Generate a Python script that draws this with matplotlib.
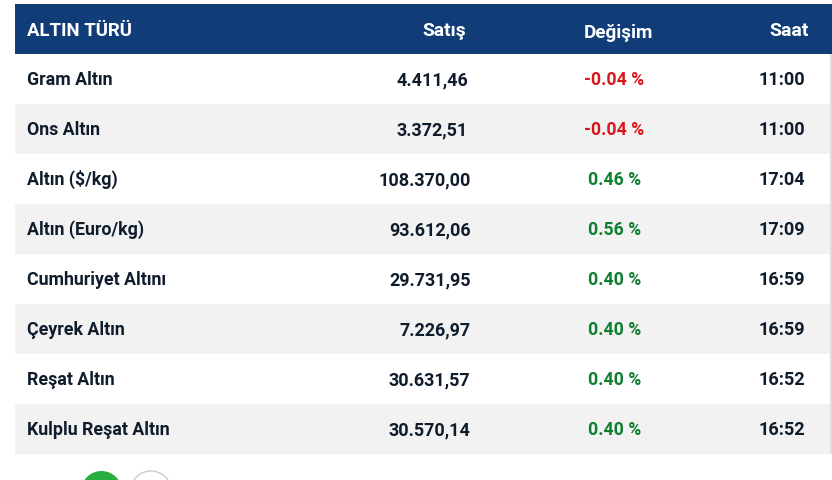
import matplotlib.pyplot as plt
from matplotlib.patches import Rectangle, Circle

plt.rcParams['font.family'] = ['Roboto', 'DejaVu Sans']

W, H = 832, 480
NAVY = '#103d78'
INK = '#0e1c2b'
RED = '#d9161c'
GREEN = '#0d7f2e'

headers = ['ALTIN TÜRÜ', 'Satış', 'Değişim', 'Saat']
names = ['Gram Altın', 'Ons Altın', 'Altın ($/kg)', 'Altın (Euro/kg)',
         'Cumhuriyet Altını', 'Çeyrek Altın', 'Reşat Altın', 'Kulplu Reşat Altın']
prices = ['4.411,46', '3.372,51', '108.370,00', '93.612,06',
          '29.731,95', '7.226,97', '30.631,57', '30.570,14']
changes = ['-0.04 %', '-0.04 %', '0.46 %', '0.56 %', '0.40 %', '0.40 %', '0.40 %', '0.40 %']
times = ['11:00', '11:00', '17:04', '17:09', '16:59', '16:59', '16:52', '16:52']
price_right = [468.5, 467.5, 470.5, 470.5, 470.5, 470.5, 470.5, 470.5]

fig = plt.figure(figsize=(W / 100, H / 100), dpi=100)
ax = fig.add_axes([0, 0, 1, 1])
ax.set_xlim(0, W)
ax.set_ylim(H, 0)
ax.axis('off')

# header band
ax.add_patch(Rectangle((15, 4), 817, 50, color=NAVY, lw=0))
ax.text(27, 36.5, headers[0], color='white', fontsize=13.4, fontweight='bold', va='baseline')
ax.text(466, 36.5, headers[1], color='white', fontsize=13.9, fontweight='bold', va='baseline', ha='right')
ax.text(583.5, 38.5, headers[2], color='white', fontsize=13.6, fontweight='bold', va='baseline')
ax.text(809, 36.5, headers[3], color='white', fontsize=14, fontweight='bold', va='baseline', ha='right')

# rows
for i in range(len(names)):
    top = 54 + i * 50
    base = top + 31
    if i % 2 == 1:
        ax.add_patch(Rectangle((15, top), 817, 50, color='#f2f2f2', lw=0))
    ax.text(27, base, names[i], color=INK, fontsize=12.8, fontweight='bold', va='baseline')
    ax.text(price_right[i], base, prices[i], color=INK, fontsize=13, fontweight='bold', va='baseline', ha='right')
    color = RED if changes[i].startswith('-') else GREEN
    ax.text(583.5 if color == RED else 588, base, changes[i], color=color, fontsize=12.7, fontweight='bold', va='baseline')
    ax.text(805, base, times[i], color=INK, fontsize=13.1, fontweight='bold', va='baseline', ha='right')

# scrollbar edge and pager circles cut off at the bottom
ax.add_patch(Rectangle((830, 54), 2, 400, color='#dddddd', lw=0))
ax.add_patch(Circle((101.5, 491.5), 20.5, facecolor='#28ae3e', edgecolor='none'))
ax.add_patch(Circle((151, 491.5), 20.5, facecolor='white', edgecolor='#cccccc', lw=1))

fig.savefig('out.png', dpi=100)
